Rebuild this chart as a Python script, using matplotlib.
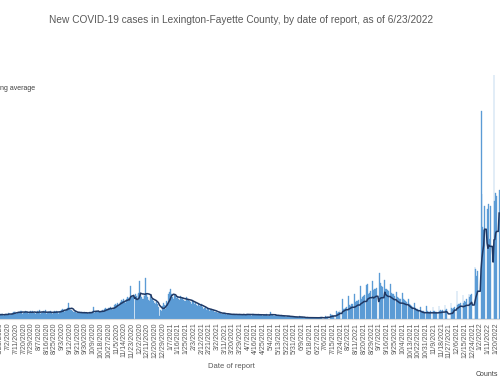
import numpy as np
import pandas as pd
import matplotlib
matplotlib.use("Agg")
import matplotlib.pyplot as plt

plt.rcParams['font.family'] = ['Liberation Sans', 'DejaVu Sans']

# daily new cases by date of report, starting 6/17/2020
jun_2020 = [30, 25, 33, 22, 18, 27, 31, 29, 35, 24, 20, 26, 30, 34]
jul_2020 = [28, 36, 41, 25, 22, 33, 38, 44, 47, 52, 39, 30, 41, 48, 45, 50, 43, 55, 35, 38,
            47, 52, 49, 44, 40, 31, 45, 50, 46, 53, 42]
aug_2020 = [48, 37, 30, 44, 52, 46, 61, 43, 33, 41, 47, 50, 45, 58, 38, 29, 42, 49, 46, 53,
            44, 35, 31, 45, 51, 48, 56, 47, 40, 33, 49]
sep_2020 = [55, 62, 70, 58, 66, 49, 52, 68, 75, 108, 71, 60, 57, 63, 50, 46, 44, 52, 41, 35,
            39, 45, 43, 40, 47, 38, 33, 41, 44, 39]
oct_2020 = [42, 38, 35, 40, 45, 43, 48, 46, 84, 41, 37, 50, 52, 47, 55, 49, 44, 46, 53, 58,
            51, 66, 72, 64, 58, 69, 75, 71, 80, 68, 62]
nov_2020 = [78, 70, 92, 105, 98, 110, 95, 88, 112, 118, 130, 125, 140, 115, 108, 128, 135, 150, 142, 138,
            230, 160, 145, 150, 165, 0, 175, 155, 140, 170]
dec_2020 = [180, 260, 165, 150, 140, 135, 170, 160, 287, 175, 150, 130, 125, 145, 155, 140, 135, 120, 110, 100,
            125, 115, 105, 80, 20, 60, 55, 85, 90, 110, 95]
jan_2021 = [70, 120, 95, 175, 160, 185, 210, 170, 150, 140, 165, 155, 160, 145, 150, 135, 130, 160, 150, 140,
            145, 130, 125, 120, 150, 140, 135, 130, 125, 115, 105]
feb_2021 = [130, 120, 115, 105, 110, 95, 90, 100, 95, 88, 85, 105, 80, 70, 75, 78, 65, 60, 72, 68,
            55, 62, 66, 58, 52, 60, 49, 45]
mar_2021 = [48, 42, 40, 38, 45, 36, 30, 35, 38, 33, 40, 31, 27, 29, 34, 30, 28, 32, 26, 25,
            29, 31, 27, 33, 28, 24, 26, 30, 27, 25, 29]
apr_2021 = [28, 30, 24, 22, 32, 29, 35, 27, 26, 23, 21, 30, 33, 28, 31, 25, 22, 24, 29, 27,
            26, 30, 23, 20, 22, 28, 26, 31, 24, 21]
may_2021 = [19, 23, 48, 25, 27, 22, 20, 18, 24, 26, 21, 23, 19, 17, 15, 22, 20, 18, 21, 16,
            14, 13, 17, 19, 15, 12, 14, 11, 9, 10, 13]
jun_2021 = [12, 10, 8, 11, 7, 18, 9, 10, 8, 6, 7, 5, 4, 6, 8, 5, 7, 6, 4, 3,
            5, 6, 7, 5, 4, 6, 3, 5, 6, 8]
jul_2021 = [8, 10, 0, 0, 0, 21, 9, 14, 16, 0, 0, 30, 22, 25, 20, 28, 0, 0, 55, 40,
            48, 45, 60, 0, 0, 140, 65, 70, 75, 80, 0]
aug_2021 = [0, 160, 95, 90, 100, 105, 0, 0, 170, 115, 120, 125, 130, 0, 0, 225, 140, 150, 155, 165,
            0, 0, 235, 240, 175, 180, 190, 0, 0, 260, 200]
sep_2021 = [205, 210, 215, 0, 0, 0, 320, 250, 230, 220, 0, 0, 270, 210, 205, 200, 195, 0, 0, 240,
            180, 175, 170, 160, 0, 0, 185, 150, 145, 140]
oct_2021 = [135, 0, 0, 180, 135, 130, 120, 115, 0, 0, 140, 100, 95, 85, 80, 0, 0, 110, 75, 70,
            65, 60, 0, 0, 80, 55, 50, 52, 48, 0, 0]
nov_2021 = [85, 50, 48, 45, 52, 0, 0, 80, 50, 55, 47, 44, 0, 0, 90, 53, 58, 50, 60, 0,
            0, 95, 62, 70, 0, 0, 0, 0, 110, 75]
dec_2021 = [70, 75, 80, 0, 0, 190, 95, 100, 105, 110, 0, 0, 165, 110, 120, 115, 135, 0, 0, 175,
            150, 165, 170, 0, 0, 0, 360, 345, 300, 330, 0]
jan_2022 = [0, 0, 1450, 875, 640, 620, 790, 0, 0, 770, 620, 800, 560, 785, 0, 0, 0, 1708, 820, 880,
            860, 0, 0, 900]

months = [jun_2020, jul_2020, aug_2020, sep_2020, oct_2020, nov_2020, dec_2020,
          jan_2021, feb_2021, mar_2021, apr_2021, may_2021, jun_2021, jul_2021,
          aug_2021, sep_2021, oct_2021, nov_2021, dec_2021, jan_2022]
counts = pd.Series(np.concatenate(months).astype(float),
                   index=pd.date_range('2020-06-17', periods=sum(len(m) for m in months)))
rolling = counts.rolling(7).mean()

start = pd.Timestamp('2020-06-23')
day = (counts.index - start).days.values

tick_dates = pd.date_range(start, '2022-01-20', freq='9D')
tick_pos = (tick_dates - start).days.values
tick_labels = [f"{t.month}/{t.day}/{t.year}" for t in tick_dates]

fig = plt.figure(figsize=(5.0, 3.79), dpi=100)
ax = fig.add_axes([0, 1 - 318.5 / 379, 1, 257.1 / 379])

ax.bar(day, counts.values, width=1.0, color='#5B9BD5', edgecolor='#5B9BD5', linewidth=0.25)
ax.plot(day, rolling.values, color='#1F3864', linewidth=1.1)

ax.set_xlim(-0.5, 581)
ax.set_ylim(0, 1800)
ax.set_xticks(tick_pos)
ax.set_xticklabels(tick_labels, rotation=90, fontsize=5, color='#595959')
ax.tick_params(axis='x', length=0, pad=3)
ax.set_yticks([])
for s in ['top', 'left', 'right']:
    ax.spines[s].set_visible(False)
ax.spines['bottom'].set_color('#D9D9D9')
ax.spines['bottom'].set_linewidth(0.8)

fig.text(241 / 500, 1 - 20 / 379,
         'New COVID-19 cases in Lexington-Fayette County, by date of report, as of 6/23/2022',
         ha='center', va='center', fontsize=7.3, color='#595959')
fig.text(231 / 500, 1 - 366 / 379, 'Date of report', ha='center', va='center',
         fontsize=5.5, color='#595959')
fig.text(0.5 / 500, 1 - 88 / 379, 'ng average', ha='left', va='center',
         fontsize=5, color='#404040')
fig.text(498 / 500, 1 - 374 / 379, 'Counts', ha='right', va='center',
         fontsize=5, color='#404040')

fig.savefig('out.png', dpi=100)
